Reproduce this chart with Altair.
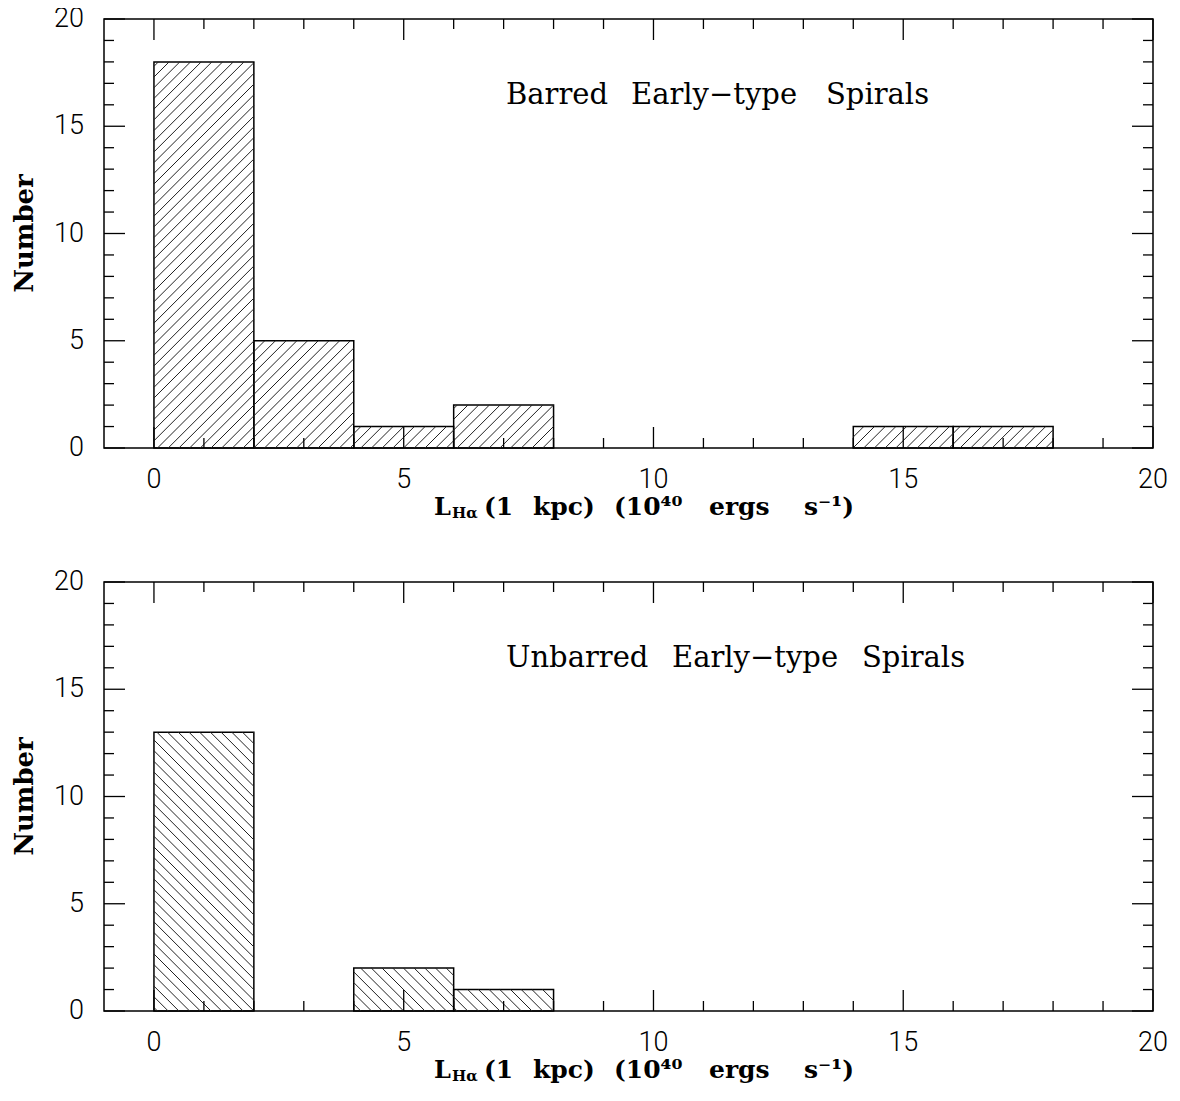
import altair as alt
import pandas as pd

# ---------------- data ----------------
BIN_W = 2
top_bin_left = [0, 2, 4, 6, 14, 16]
top_counts = [18, 5, 1, 2, 1, 1]
bot_bin_left = [0, 4, 6]
bot_counts = [13, 2, 1]

top_title_words = ["Barred", "Early\u2212type", "Spirals"]
top_title_pos = [402, 527, 722]
bot_title_words = ["Unbarred", "Early\u2212type", "Spirals"]
bot_title_pos = [402, 568, 758]
y_title = "Number"
xt_main = "L"
xt_sub = "H\u03b1"
xt_words = ["(1", "kpc)", "(10\u2074\u2070", "ergs", "s\u207b\u00b9)"]
xt_pos = [380, 429, 510, 605, 700]

x_major = [0, 5, 10, 15, 20]
x_minor = [v for v in range(0, 21) if v % 5 != 0]
y_major = [0, 5, 10, 15, 20]
y_minor = [v for v in range(0, 21) if v % 5 != 0]

# ---------------- layout ----------------
W, H = 1049, 429
XMIN, XMAX = -1, 20
YMIN, YMAX = 0, 20
kx = W / (XMAX - XMIN)
ky = H / (YMAX - YMIN)
MAJ, MIN_ = 21, 10
SP = 10.7

xscale = alt.Scale(domain=[XMIN, XMAX], nice=False, zero=False)
yscale = alt.Scale(domain=[YMIN, YMAX], nice=False, zero=False)
LABEL_FONT = "Roboto"


def hatch(lefts, counts, direction):
    rows = []
    for x0d, c in zip(lefts, counts):
        X0 = (x0d - XMIN) * kx
        X1 = (x0d + BIN_W - XMIN) * kx
        Y1 = c * ky
        kmin = int((X0 - Y1) // SP) - 2
        kmax = int((X1 + Y1) // SP) + 2
        for k in range(kmin, kmax + 1):
            cc = k * SP
            if direction == "/":
                lo, hi = max(X0, cc), min(X1, cc + Y1)
                if hi - lo <= 0.3:
                    continue
                p = (lo, lo - cc, hi, hi - cc)
            else:
                lo, hi = max(X0, cc - Y1), min(X1, cc)
                if hi - lo <= 0.3:
                    continue
                p = (lo, cc - lo, hi, cc - hi)
            rows.append({"x": p[0] / kx + XMIN, "y": p[1] / ky,
                         "x2": p[2] / kx + XMIN, "y2": p[3] / ky})
    return pd.DataFrame(rows)


def words_layer(words, xs, y, **kw):
    df = pd.DataFrame({"t": words, "px": xs})
    return alt.Chart(df).mark_text(align="left", baseline="alphabetic", color="black",
                                   **kw).encode(
        text="t:N", x=alt.X("px:Q", scale=None, axis=None), y=alt.value(y))


def txt(s, **kw):
    return alt.Chart(pd.DataFrame({"t": [s]})).mark_text(color="black", **kw).encode(text="t:N")


def panel(lefts, counts, direction, twords, tpos):
    bars_df = pd.DataFrame({"x": lefts, "x2": [l + BIN_W for l in lefts], "n": counts})

    bars = alt.Chart(bars_df).mark_rect(
        fill="white", fillOpacity=0, stroke="black", strokeWidth=1.5
    ).encode(
        x=alt.X("x:Q", scale=xscale, axis=None),
        x2="x2:Q",
        y=alt.Y("n:Q", scale=yscale, axis=None),
        y2=alt.datum(0),
    )

    hatch_layer = alt.Chart(hatch(lefts, counts, direction)).mark_rule(
        color="#222", strokeWidth=1
    ).encode(
        x=alt.X("x:Q", scale=xscale, axis=None),
        x2="x2:Q",
        y=alt.Y("y:Q", scale=yscale, axis=None),
        y2="y2:Q",
    )

    def xticks(vals, length):
        d = pd.DataFrame({"v": vals})
        b = alt.Chart(d).mark_rule(color="black", strokeWidth=1.3).encode(
            x=alt.X("v:Q", scale=xscale, axis=None), y=alt.value(H), y2=alt.value(H - length))
        t = alt.Chart(d).mark_rule(color="black", strokeWidth=1.3).encode(
            x=alt.X("v:Q", scale=xscale, axis=None), y=alt.value(0), y2=alt.value(length))
        return [b, t]

    def yticks(vals, length):
        d = pd.DataFrame({"v": vals})
        l = alt.Chart(d).mark_rule(color="black", strokeWidth=1.3).encode(
            y=alt.Y("v:Q", scale=yscale, axis=None), x=alt.value(0), x2=alt.value(length))
        r = alt.Chart(d).mark_rule(color="black", strokeWidth=1.3).encode(
            y=alt.Y("v:Q", scale=yscale, axis=None), x=alt.value(W), x2=alt.value(W - length))
        return [l, r]

    ticks = xticks(x_major, MAJ) + xticks(x_minor, MIN_) + yticks(y_major, MAJ) + yticks(y_minor, MIN_)

    xlab = alt.Chart(pd.DataFrame({"v": x_major})).mark_text(
        font=LABEL_FONT, fontWeight=300, fontSize=27, color="black",
        align="center", baseline="alphabetic"
    ).encode(x=alt.X("v:Q", scale=xscale, axis=None), y=alt.value(H + 40), text="v:Q")

    ylab = alt.Chart(pd.DataFrame({"v": y_major})).mark_text(
        font=LABEL_FONT, fontWeight=300, fontSize=27, color="black",
        align="right", baseline="middle"
    ).encode(y=alt.Y("v:Q", scale=yscale, axis=None), x=alt.value(-20), text="v:Q")

    texts = [
        words_layer(twords, tpos, 85, font="DejaVu Serif", fontSize=29),
        txt(y_title, font="DejaVu Serif", fontSize=26, fontWeight="bold", angle=270,
            align="center", baseline="alphabetic").encode(
            x=alt.value(-71), y=alt.value(H / 2)),
        txt(xt_main, font="DejaVu Serif", fontSize=24, fontWeight="bold", align="left",
            baseline="alphabetic").encode(x=alt.value(330), y=alt.value(H + 67)),
        txt(xt_sub, font="DejaVu Serif", fontSize=15, fontWeight="bold", align="left",
            baseline="alphabetic").encode(x=alt.value(348), y=alt.value(H + 70)),
        words_layer(xt_words, xt_pos, H + 67, font="DejaVu Serif", fontSize=25,
                    fontWeight="bold"),
    ]

    anchor = alt.Chart(pd.DataFrame({"a": [0]})).mark_rect(fill="white").encode(
        x=alt.value(-95), x2=alt.value(-94), y=alt.value(-11), y2=alt.value(-10))

    return alt.layer(anchor, bars, hatch_layer, *ticks, xlab, ylab, *texts).properties(
        width=W, height=H)


top = panel(top_bin_left, top_counts, "/", top_title_words, top_title_pos)
bot = panel(bot_bin_left, bot_counts, "\\", bot_title_words, bot_title_pos)

chart = alt.vconcat(top, bot, spacing=134, bounds="flush").properties(
    padding={"top": -4, "left": 0, "right": 0, "bottom": 0}
).configure_view(stroke="black", strokeWidth=1.5)

chart.save("out.html", embed_options={"renderer": "svg", "actions": False})
